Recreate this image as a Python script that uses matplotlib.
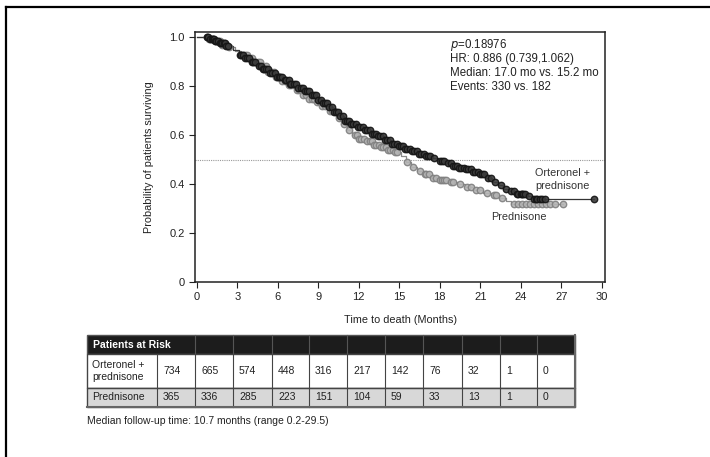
import matplotlib
matplotlib.use('Agg')
import matplotlib.pyplot as plt
import numpy as np
from matplotlib.patches import Rectangle

plt.rcParams['font.family'] = ['Liberation Sans', 'DejaVu Sans']

# Kaplan-Meier steps (months, survival)
ort_t = [0, 0.9, 1.3, 1.7, 2.2, 2.7, 3.1, 3.6, 4.0, 4.4, 4.9, 5.4, 5.9, 6.4, 6.9, 7.4,
         7.9, 8.4, 8.9, 9.3, 9.7, 10.1, 10.5, 10.9, 11.4, 11.9, 12.4, 12.9, 13.4, 13.9,
         14.4, 14.9, 15.4, 15.9, 16.4, 16.9, 17.4, 17.9, 18.4, 18.9, 19.4, 19.9, 20.4,
         20.9, 21.4, 21.9, 22.3, 22.7, 23.1, 23.6, 24.4, 24.9, 29.4]
ort_s = [1.0, 0.995, 0.985, 0.975, 0.965, 0.95, 0.93, 0.915, 0.9, 0.885, 0.87, 0.855,
         0.84, 0.825, 0.81, 0.795, 0.78, 0.765, 0.745, 0.73, 0.715, 0.695, 0.68, 0.66,
         0.645, 0.635, 0.62, 0.605, 0.595, 0.58, 0.565, 0.555, 0.545, 0.535, 0.525,
         0.515, 0.505, 0.495, 0.485, 0.475, 0.465, 0.46, 0.45, 0.44, 0.425, 0.41, 0.395,
         0.38, 0.37, 0.36, 0.35, 0.34, 0.34]
pred_t = [0, 0.9, 1.3, 1.8, 2.3, 2.8, 3.3, 3.8, 4.3, 4.8, 5.3, 5.8, 6.3, 6.8, 7.3, 7.8,
          8.3, 8.8, 9.3, 9.8, 10.3, 10.7, 11.1, 11.5, 12.0, 12.6, 13.1, 13.6, 14.1,
          14.6, 15.1, 15.5, 15.9, 16.3, 16.8, 17.3, 17.8, 18.6, 19.3, 19.9, 20.5, 21.2,
          21.8, 22.4, 22.9, 23.3, 27.1]
pred_s = [1.0, 0.995, 0.985, 0.97, 0.96, 0.945, 0.93, 0.915, 0.9, 0.885, 0.86, 0.84,
          0.82, 0.805, 0.785, 0.765, 0.75, 0.735, 0.72, 0.7, 0.67, 0.645, 0.62, 0.6,
          0.585, 0.575, 0.56, 0.55, 0.54, 0.53, 0.515, 0.49, 0.47, 0.455, 0.44, 0.425,
          0.415, 0.41, 0.4, 0.39, 0.375, 0.365, 0.355, 0.345, 0.33, 0.32, 0.32]

# censor marks (dense, they blur into a thick band)
ort_cens = [0.75, 0.85, 0.95, 1.1, 1.2, 1.25, 1.35, 1.45, 1.6, 1.7, 1.8, 1.9, 2.0, 2.1,
            2.2, 2.3, 3.2, 3.3, 3.45, 3.6, 3.7, 3.85, 4.1, 4.2, 4.3, 4.6, 4.75, 4.9,
            5.0, 5.15, 5.3, 5.45, 5.6, 5.8, 5.95, 6.1, 6.2, 6.35, 6.5, 6.6, 6.8, 6.9,
            7.0, 7.2, 7.35, 7.5, 7.7, 7.85, 8.0, 8.2, 8.35, 8.5, 8.7, 8.85, 9.0, 9.2,
            9.35, 9.5, 9.65, 9.8, 10.0, 10.15, 10.3, 10.45, 10.6, 10.8, 10.95, 11.1,
            11.3, 11.45, 11.6, 11.8, 11.95, 12.1, 12.3, 12.45, 12.6, 12.8, 12.95, 13.1,
            13.3, 13.45, 13.6, 13.8, 13.95, 14.1, 14.3, 14.45, 14.6, 14.8, 14.95,
            15.1, 15.3, 15.45, 15.6, 15.8, 15.95, 16.1, 16.3, 16.45, 16.6, 16.8, 16.95,
            17.1, 17.3, 17.6, 18.0, 18.2, 18.35, 18.6, 18.8, 18.95, 19.1, 19.3, 19.45,
            19.6, 19.8, 19.95, 20.1, 20.3, 20.45, 20.6, 20.8, 20.95, 21.1, 21.3, 21.6,
            21.8, 22.1, 22.5, 22.9, 23.3, 23.5, 23.7, 23.8, 24.0, 24.1, 24.2, 24.3,
            24.6, 25.0, 25.1, 25.2, 25.4, 25.6, 25.8, 29.4]
pred_cens = [0.75, 0.9, 1.05, 1.2, 1.4, 1.55, 1.7, 1.9, 2.1, 2.2, 2.4, 3.4, 3.6, 3.75,
             3.9, 4.1, 4.3, 4.5, 4.7, 4.9, 5.1, 5.3, 5.5, 5.7, 5.85, 6.0, 6.2, 6.35,
             6.5, 6.7, 6.85, 7.0, 7.2, 7.4, 7.6, 7.75, 7.9, 8.1, 8.3, 8.5, 8.7, 8.9,
             9.1, 9.3, 9.5, 9.7, 9.85, 10.0, 10.2, 10.5, 10.9, 11.3, 11.7, 11.9,
             12.05, 12.2, 12.4, 12.6, 12.8, 13.0, 13.15, 13.3, 13.5, 13.65, 13.8,
             14.0, 14.15, 14.3, 14.5, 14.65, 14.8, 15.6, 16.0, 16.5, 16.9, 17.0, 17.2,
             17.5, 17.7, 18.0, 18.15, 18.3, 18.45, 18.8, 19.0, 19.5, 20.0, 20.3, 20.7,
             21.0, 21.5, 22.0, 22.2, 22.6, 23.5, 23.8, 24.1, 24.4, 24.7, 25.0, 25.3,
             25.6, 25.9, 26.2, 26.5, 27.1]

risk_labels = ['Orteronel +\nprednisone', 'Prednisone']
risk_ort = [734, 665, 574, 448, 316, 217, 142, 76, 32, 1, 0]
risk_pred = [365, 336, 285, 223, 151, 104, 59, 33, 13, 1, 0]

stats_lines = ['$p$=0.18976', 'HR: 0.886 (0.739,1.062)',
               'Median: 17.0 mo vs. 15.2 mo', 'Events: 330 vs. 182']


def step_at(tt, ss, x):
    idx = np.searchsorted(tt, x, side='right') - 1
    return np.array(ss)[idx]


fig = plt.figure(figsize=(7.10, 4.57), dpi=100)

# background layer in pixel coords (frame + risk table + footnote)
bg = fig.add_axes([0, 0, 1, 1])
bg.set_xlim(0, 710)
bg.set_ylim(457, 0)
bg.axis('off')
bg.plot([6, 6], [7, 457], color='black', lw=1.6)
bg.plot([6, 710], [7, 7], color='black', lw=1.6)

cols = [87, 157, 195, 233, 272, 309, 347, 385, 423, 462, 500, 537, 575]
rows = [335, 354, 388, 407]
bg.add_patch(Rectangle((cols[0], rows[0]), cols[-1] - cols[0], rows[1] - rows[0],
                       facecolor='#1c1c1c', edgecolor='#555555', lw=1))
bg.add_patch(Rectangle((cols[0], rows[1]), cols[-1] - cols[0], rows[2] - rows[1],
                       facecolor='white', edgecolor='#444444', lw=1))
bg.add_patch(Rectangle((cols[0], rows[2]), cols[-1] - cols[0], rows[3] - rows[2],
                       facecolor='#d8d8d8', edgecolor='#444444', lw=1))
for c in cols[2:-1]:
    bg.plot([c, c], [rows[0], rows[1]], color='#555555', lw=0.8)
for c in cols[1:-1]:
    bg.plot([c, c], [rows[1], rows[3]], color='#444444', lw=0.8)
bg.plot([cols[0], cols[-1]], [rows[2], rows[2]], color='#444444', lw=0.8)
bg.plot([cols[0], cols[-1]], [rows[3], rows[3]], color='#666666', lw=1.5)
bg.plot([cols[-1], cols[-1]], [rows[0], rows[3]], color='#666666', lw=1.5)
bg.text(cols[0] + 6, (rows[0] + rows[1]) / 2, 'Patients at Risk', color='white',
        fontsize=7.5, fontweight='bold', va='center', ha='left')
for r, (lab, vals) in enumerate(zip(risk_labels, [risk_ort, risk_pred])):
    yc = (rows[r + 1] + rows[r + 2]) / 2
    bg.text(cols[0] + 5, yc, lab, fontsize=7.5, va='center', ha='left',
            linespacing=1.2, color='#222222')
    for i, v in enumerate(vals):
        bg.text(cols[i + 1] + 6, yc, str(v), fontsize=7.5, va='center', ha='left',
                color='#222222')
bg.text(87, 421, 'Median follow-up time: 10.7 months (range 0.2-29.5)',
        fontsize=7.5, va='center', ha='left', color='#222222')

# KM plot
ax = fig.add_axes([195 / 710, 1 - 282 / 457, 410 / 710, 250 / 457])
ax.set_xlim(-0.13, 30.24)
ax.set_ylim(0, 1.022)

ax.axhline(0.5, color='#999999', lw=0.8, ls=(0, (1, 1)))
ax.plot(pred_t, pred_s, drawstyle='steps-post', color='#8a8a8a', lw=0.9)
ax.plot(ort_t, ort_s, drawstyle='steps-post', color='#333333', lw=0.9)
ax.plot(pred_cens, step_at(pred_t, pred_s, pred_cens), 'o', ms=4.6,
        mfc='#b4b4b4', mec='#808080', mew=1.0, alpha=0.9)
ax.plot(ort_cens, step_at(ort_t, ort_s, ort_cens), 'o', ms=4.6,
        mfc='#3c3c3c', mec='#151515', mew=1.0, alpha=0.9)

ax.set_xticks(np.arange(0, 31, 3))
ax.set_yticks([0, 0.2, 0.4, 0.6, 0.8, 1.0])
ax.set_yticklabels(['0', '0.2', '0.4', '0.6', '0.8', '1.0'])
ax.tick_params(labelsize=8, length=4, width=0.8, pad=3.5, colors='#222222')
for sp in ax.spines.values():
    sp.set_linewidth(1.1)
    sp.set_color('#222222')
ax.set_xlabel('Time to death (Months)', fontsize=7.8, labelpad=9, color='#222222')
ax.set_ylabel('Probability of patients surviving', fontsize=7.8, labelpad=11,
              color='#222222')

for i, line in enumerate(stats_lines):
    ax.text(18.76, 0.968 - i * 0.0575, line, fontsize=8.3, va='center', ha='left',
            color='#222222')
ax.text(25.06, 0.445, 'Orteronel +', fontsize=7.8, va='center', ha='left',
        color='#333333')
ax.text(25.06, 0.391, 'prednisone', fontsize=7.8, va='center', ha='left',
        color='#333333')
ax.text(21.8, 0.265, 'Prednisone', fontsize=7.8, va='center', ha='left',
        color='#333333')

fig.savefig('out.png', dpi=100)
